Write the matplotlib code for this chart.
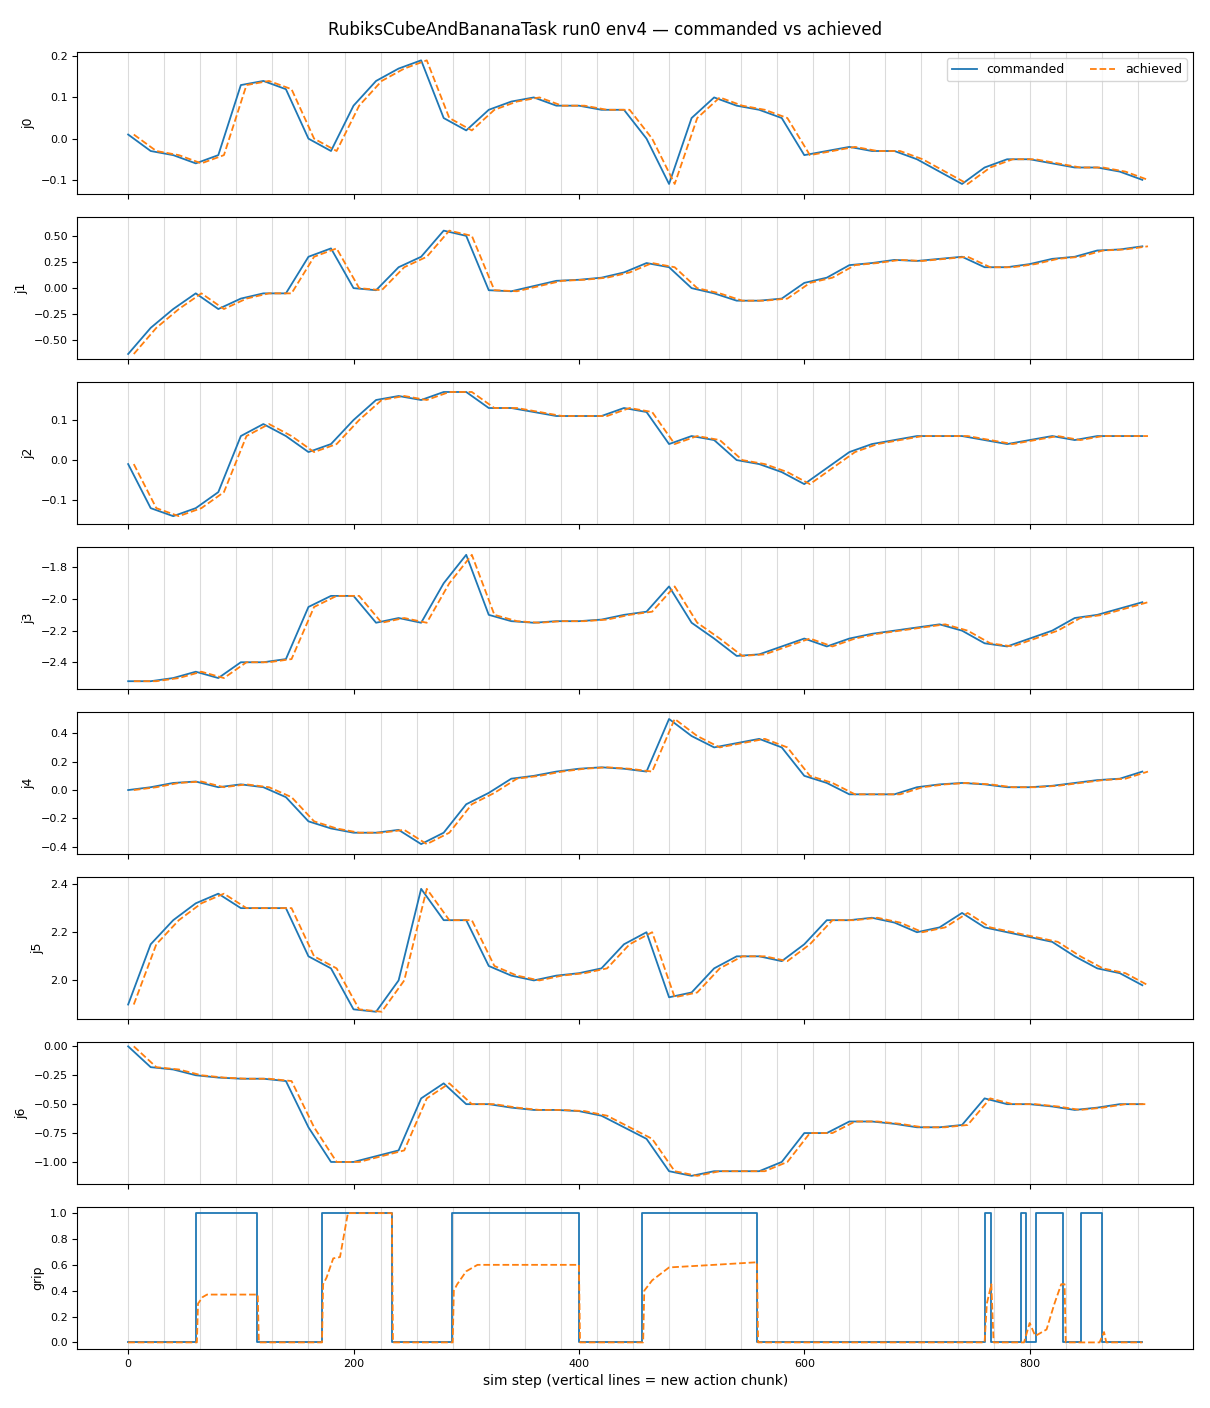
import matplotlib.pyplot as plt
from matplotlib.ticker import MultipleLocator
import numpy as np

steps = list(range(0, 901, 20))
lag = 5

j0 = [0.01, -0.03, -0.04, -0.06, -0.04, 0.13, 0.14, 0.12, 0.0, -0.03, 0.08, 0.14, 0.17, 0.19, 0.05, 0.02,
      0.07, 0.09, 0.10, 0.08, 0.08, 0.07, 0.07, 0.0, -0.11, 0.05, 0.10, 0.08, 0.07, 0.05, -0.04, -0.03,
      -0.02, -0.03, -0.03, -0.05, -0.08, -0.11, -0.07, -0.05, -0.05, -0.06, -0.07, -0.07, -0.08, -0.10]
j1 = [-0.63, -0.38, -0.2, -0.05, -0.2, -0.1, -0.05, -0.05, 0.3, 0.38, 0.0, -0.02, 0.2, 0.3, 0.55, 0.5,
      -0.02, -0.03, 0.02, 0.07, 0.08, 0.1, 0.15, 0.24, 0.2, 0.0, -0.05, -0.12, -0.12, -0.1, 0.05, 0.1,
      0.22, 0.24, 0.27, 0.26, 0.28, 0.3, 0.2, 0.2, 0.23, 0.28, 0.3, 0.36, 0.37, 0.4]
j2 = [-0.01, -0.12, -0.14, -0.12, -0.08, 0.06, 0.09, 0.06, 0.02, 0.04, 0.1, 0.15, 0.16, 0.15, 0.17, 0.17,
      0.13, 0.13, 0.12, 0.11, 0.11, 0.11, 0.13, 0.12, 0.04, 0.06, 0.05, 0.0, -0.01, -0.03, -0.06, -0.02,
      0.02, 0.04, 0.05, 0.06, 0.06, 0.06, 0.05, 0.04, 0.05, 0.06, 0.05, 0.06, 0.06, 0.06]
j3 = [-2.52, -2.52, -2.5, -2.46, -2.5, -2.4, -2.4, -2.38, -2.05, -1.98, -1.98, -2.15, -2.12, -2.15, -1.9, -1.72,
      -2.1, -2.14, -2.15, -2.14, -2.14, -2.13, -2.1, -2.08, -1.92, -2.15, -2.25, -2.36, -2.35, -2.3, -2.25, -2.3,
      -2.25, -2.22, -2.2, -2.18, -2.16, -2.2, -2.28, -2.3, -2.25, -2.2, -2.12, -2.1, -2.06, -2.02]
j4 = [0.0, 0.02, 0.05, 0.06, 0.02, 0.04, 0.02, -0.05, -0.22, -0.27, -0.3, -0.3, -0.28, -0.38, -0.3, -0.1,
      -0.02, 0.08, 0.1, 0.13, 0.15, 0.16, 0.15, 0.13, 0.5, 0.38, 0.3, 0.33, 0.36, 0.3, 0.1, 0.05,
      -0.03, -0.03, -0.03, 0.02, 0.04, 0.05, 0.04, 0.02, 0.02, 0.03, 0.05, 0.07, 0.08, 0.13]
j5 = [1.9, 2.15, 2.25, 2.32, 2.36, 2.3, 2.3, 2.3, 2.1, 2.05, 1.88, 1.87, 2.0, 2.38, 2.25, 2.25,
      2.06, 2.02, 2.0, 2.02, 2.03, 2.05, 2.15, 2.2, 1.93, 1.95, 2.05, 2.1, 2.1, 2.08, 2.15, 2.25,
      2.25, 2.26, 2.24, 2.2, 2.22, 2.28, 2.22, 2.2, 2.18, 2.16, 2.1, 2.05, 2.03, 1.98]
j6 = [0.0, -0.18, -0.2, -0.25, -0.27, -0.28, -0.28, -0.3, -0.7, -1.0, -1.0, -0.95, -0.9, -0.45, -0.32, -0.5,
      -0.5, -0.53, -0.55, -0.55, -0.56, -0.6, -0.7, -0.8, -1.08, -1.12, -1.08, -1.08, -1.08, -1.0, -0.75, -0.75,
      -0.65, -0.65, -0.67, -0.7, -0.7, -0.68, -0.45, -0.5, -0.5, -0.52, -0.55, -0.53, -0.5, -0.5]
joints = [j0, j1, j2, j3, j4, j5, j6]
ylims = [(-0.135, 0.21), (-0.68, 0.68), (-0.16, 0.195), (-2.57, -1.67),
         (-0.45, 0.55), (1.84, 2.43), (-1.19, 0.04)]
ysteps = [0.1, 0.25, 0.1, 0.2, 0.2, 0.2, 0.25]

grip_cmd_x = [0, 60, 60, 114, 114, 172, 172, 234, 234, 287, 287, 400, 400, 456, 456, 558, 558,
              760, 760, 766, 766, 792, 792, 797, 797, 806, 806, 830, 830, 846, 846, 864, 864, 900]
grip_cmd_y = [0, 0, 1, 1, 0, 0, 1, 1, 0, 0, 1, 1, 0, 0, 1, 1, 0,
              0, 1, 1, 0, 0, 1, 1, 0, 0, 1, 1, 0, 0, 1, 1, 0, 0]
grip_ach_x = [0, 61, 62, 66, 70, 115, 116, 172, 173, 176, 182, 188, 195, 234, 235, 288, 289, 292, 300, 310,
              400, 401, 457, 458, 465, 480, 520, 558, 559, 760, 762, 766, 768, 795, 800, 805, 815, 822, 828,
              831, 832, 862, 866, 868, 900]
grip_ach_y = [0, 0, 0.3, 0.35, 0.37, 0.37, 0, 0, 0.45, 0.5, 0.65, 0.66, 1.0, 1.0, 0, 0, 0.4, 0.45, 0.55, 0.6,
              0.6, 0, 0, 0.4, 0.48, 0.58, 0.6, 0.62, 0, 0, 0.3, 0.45, 0, 0, 0.15, 0.05, 0.1, 0.3, 0.45,
              0.45, 0, 0, 0.08, 0, 0]

fig, axes = plt.subplots(8, 1, figsize=(12.1, 14.08), dpi=100, sharex=True)
fig.subplots_adjust(left=0.064, right=0.986, top=0.963, bottom=0.042, hspace=0.16)
fig.suptitle("RubiksCubeAndBananaTask run0 env4 \u2014 commanded vs achieved", y=0.985, fontsize=12)

steps_a = np.array(steps) + lag
for i, ax in enumerate(axes):
    for c in range(0, 900, 32):
        ax.axvline(c, color='lightgray', lw=0.8, alpha=0.8, zorder=0)
    if i < 7:
        ax.plot(steps, joints[i], color='C0', lw=1.3, label='commanded')
        ax.plot(steps_a, joints[i], color='C1', lw=1.3, ls='--', label='achieved')
        ax.set_ylabel('j%d' % i, fontsize=9)
        ax.set_ylim(*ylims[i])
        ax.yaxis.set_major_locator(MultipleLocator(ysteps[i]))
    else:
        ax.plot(grip_cmd_x, grip_cmd_y, color='C0', lw=1.3)
        ax.plot(grip_ach_x, grip_ach_y, color='C1', lw=1.3, ls='--')
        ax.set_ylabel('grip', fontsize=9)
    ax.tick_params(labelsize=8)

axes[0].legend(loc='upper right', ncol=2, fontsize=9)
axes[-1].set_xlabel('sim step (vertical lines = new action chunk)', fontsize=10)
axes[-1].set_xlim(-45, 945)
fig.savefig('out.png')
